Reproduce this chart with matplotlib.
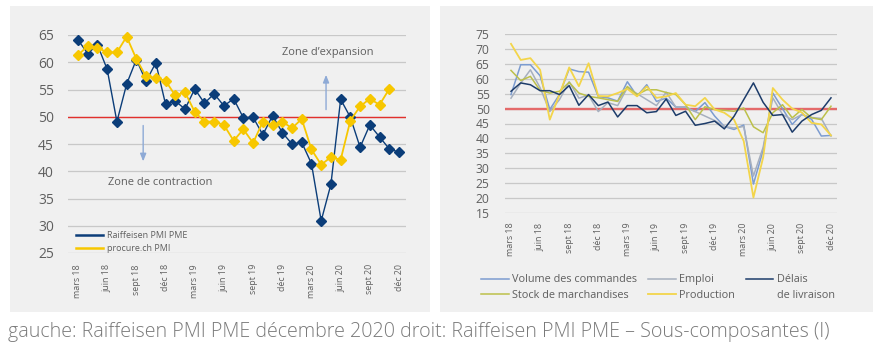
import numpy as np
import matplotlib
matplotlib.use("Agg")
import matplotlib.pyplot as plt
from matplotlib.patches import Rectangle
from matplotlib.lines import Line2D

plt.rcParams["font.family"] = ["Open Sans", "DejaVu Sans"]

# ---- data, left chart (mars 18 .. déc 20, monthly)
raiffeisen = [64.1, 61.6, 63.2, 58.7, 49.1, 56.0, 60.5, 56.5, 59.9, 52.3, 52.9, 51.4,
              55.1, 52.5, 54.2, 52.0, 53.3, 49.8, 49.9, 46.7, 50.2, 47.1, 45.0, 45.3,
              41.4, 30.9, 37.6, 53.2, 49.9, 44.4, 48.5, 46.3, 44.1, 43.5]
procure = [61.3, 63.0, 62.7, 61.8, 61.8, 64.7, 60.6, 57.4, 57.1, 56.6, 53.9, 54.5,
           50.9, 49.1, 49.1, 48.5, 45.6, 47.7, 45.2, 49.1, 48.5, 49.1, 47.9, 49.6,
           44.0, 41.2, 42.6, 42.1, 49.3, 51.9, 53.3, 52.2, 55.1]

# ---- data, right chart (sub-components)
volume = [54.7, 64.7, 64.7, 61.0, 49.7, 54.7, 63.3, 62.4, 62.2, 54.0, 53.6, 52.5,
          59.0, 54.2, 58.0, 52.4, 53.5, 50.5, 50.5, 49.0, 52.0, 47.5, 44.0, 43.0,
          44.5, 24.7, 36.0, 55.2, 50.0, 44.7, 48.1, 46.4, 40.8, 41.0]
emploi = [53.5, 58.5, 63.0, 57.0, 49.0, 53.0, 59.0, 53.5, 54.5, 49.0, 52.0, 51.0,
          57.0, 55.0, 53.0, 51.0, 55.5, 50.5, 50.5, 49.0, 47.5, 46.0, 44.0, 43.5,
          44.0, 27.4, 37.0, 53.6, 48.0, 46.3, 48.0, 47.0, 46.7, 40.8]
delais = [55.8, 58.6, 58.0, 56.0, 56.0, 54.7, 57.7, 51.1, 54.7, 51.0, 52.2, 47.2,
          51.0, 51.0, 48.6, 49.0, 53.2, 47.7, 49.1, 44.4, 45.0, 45.8, 43.2, 47.4,
          53.0, 58.6, 52.1, 47.7, 48.0, 42.1, 45.8, 48.0, 49.4, 53.6]
stock = [62.8, 59.4, 60.8, 56.1, 55.2, 55.8, 58.8, 55.2, 54.1, 53.6, 53.0, 52.4,
         57.4, 54.7, 56.3, 56.3, 55.4, 54.7, 51.3, 46.3, 50.6, 49.7, 49.4, 49.1,
         50.2, 43.9, 41.9, 48.6, 51.3, 46.9, 49.7, 46.9, 46.3, 50.8]
production = [71.7, 66.3, 66.9, 63.0, 46.3, 54.7, 63.8, 57.5, 65.2, 54.2, 54.1, 55.2,
              56.6, 54.1, 57.4, 53.6, 54.1, 55.2, 51.3, 50.8, 53.6, 49.7, 48.6, 46.3,
              39.1, 20.2, 33.6, 56.9, 53.0, 50.0, 48.7, 45.2, 44.7, 41.0]

tick_labels = ["mars 18", "juin 18", "sept 18", "déc 18", "mars 19", "juin 19",
               "sept 19", "déc 19", "mars 20", "juin 20", "sept 20", "déc 20"]

TXT = "#5f5f5f"
GRID = "#c8c8c8"
PANEL = "#f0f0f0"

W, H = 887, 352
fig = plt.figure(figsize=(W / 100, H / 100), dpi=100)


def px_rect(x0, y0, x1, y1):
    # pixel box (top-left origin) -> figure fraction [left, bottom, width, height]
    return [x0 / W, 1 - y1 / H, (x1 - x0) / W, (y1 - y0) / H]


for x0, x1 in [(10, 430), (440, 873)]:
    l, b, w, h = px_rect(x0, 6, x1, 312)
    fig.patches.append(Rectangle((l, b), w, h, transform=fig.transFigure,
                                 facecolor=PANEL, edgecolor="none", zorder=-5))


def style_axes(ax, yticks, ytick_size, xtick_size, ypad, xpad):
    ax.set_facecolor("none")
    for s in ax.spines.values():
        s.set_visible(False)
    ax.set_yticks(yticks)
    ax.yaxis.grid(True, color=GRID, lw=0.9)
    ax.set_axisbelow(True)
    ax.set_xticks(np.arange(0, 34, 3))
    ax.set_xticklabels(tick_labels, rotation=90, fontsize=xtick_size, color=TXT)
    ax.tick_params(axis="y", length=0, pad=ypad, labelsize=ytick_size, labelcolor=TXT)
    ax.tick_params(axis="x", length=0, pad=xpad)


# ---- left chart
axl = fig.add_axes(px_rect(68, 35, 406, 253))
xl = np.arange(len(raiffeisen))
xp = np.arange(len(procure))
axl.set_xlim(-(78 - 68) / 9.73, 33 + (406 - 399) / 9.73)
axl.set_ylim(25, 65)
style_axes(axl, range(25, 66, 5), 10, 6.4, 10, 8)
axl.axhline(50, color="#e2302c", lw=1.0, zorder=2)
axl.plot(xl, raiffeisen, color="#0b3d79", lw=1.0, marker="D", ms=5.3,
         label="Raiffeisen PMI PME", zorder=3, clip_on=False)
axl.plot(xp, procure, color="#f7c700", lw=1.3, marker="D", ms=5.3,
         label="procure.ch PMI", zorder=4, clip_on=False)

arrow_kw = dict(arrowstyle="-|>,head_width=0.18,head_length=0.45", color="#8eaad6", lw=1.0)
axl.annotate("", xy=(6.7, 41.3), xytext=(6.7, 48.9), arrowprops=arrow_kw)
axl.annotate("", xy=(25.5, 58.2), xytext=(25.5, 50.8), arrowprops=arrow_kw)
axl.text(25.7, 61.7, "Zone d\u2019expansion", ha="center", va="center", fontsize=8, color=TXT)
axl.text(8.4, 37.9, "Zone de contraction", ha="center", va="center", fontsize=8, color=TXT)

leg = axl.legend(loc="lower left", bbox_to_anchor=(0.01, -0.022), frameon=False,
                 fontsize=6.5, labelcolor=TXT, handlelength=3.0, handletextpad=0.4,
                 labelspacing=0.5, borderpad=0)
for h in leg.legend_handles:
    h.set_marker("")
    h.set_linewidth(1.8)

# ---- right chart
axr = fig.add_axes(px_rect(505, 34, 837, 213))
xr = np.arange(len(volume))
axr.set_xlim(-(511 - 505) / 9.7, 33 + (837 - 831) / 9.7)
axr.set_ylim(15, 75)
style_axes(axr, range(15, 76, 5), 8.7, 6.4, 11, 7)
axr.axhline(50, color="#e46a6a", lw=1.7, zorder=2)
axr.plot(xr, volume, color="#7c9cd0", lw=1.1, label="Volume des commandes", zorder=3)
axr.plot(xr, emploi, color="#a6afbe", lw=1.1, label="Emploi", zorder=3)
axr.plot(xr, stock, color="#bcc04a", lw=1.1, label="Stock de marchandises", zorder=3)
axr.plot(xr, production, color="#f3d54a", lw=1.3, label="Production", zorder=3)
axr.plot(xr, delais, color="#1d3c6a", lw=1.1, label="Délais", zorder=4)

h_vol, h_emp, h_sto, h_pro, h_del = axr.get_lines()[1:]
blank = Line2D([], [], color="none")
handles = [h_vol, h_sto, h_emp, h_pro, h_del, blank]
labels = ["Volume des commandes", "Stock de marchandises", "Emploi", "Production",
          "Délais", "de livraison"]
fig.legend(handles, labels, loc="upper left", bbox_to_anchor=(476 / W, 1 - 269 / H),
           ncol=3, frameon=False, fontsize=7.8, labelcolor=TXT, handlelength=2.55,
           handletextpad=0.3, columnspacing=1.0, labelspacing=0.4, borderpad=0)

fig.text(8 / W, 1 - 332 / H,
         "gauche: Raiffeisen PMI PME décembre 2020 droit: Raiffeisen PMI PME \u2013 Sous-composantes (I)",
         ha="left", va="center", fontsize=14.1, color="#7a7a7a", fontweight="light")

fig.savefig("out.png", dpi=100, facecolor="white")
